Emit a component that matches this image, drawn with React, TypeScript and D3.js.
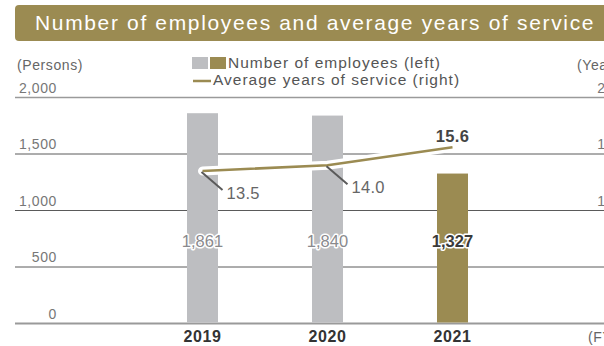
import React from "react";
import * as d3 from "d3";

const years = ["2019", "2020", "2021"];
const employees = [1861, 1840, 1327];
const serviceYears = [13.5, 14.0, 15.6];
const leftTicks = [0, 500, 1000, 1500, 2000];
const rightTicks = [0, 5, 10, 15, 20];
const leftTickLabels = ["0", "500", "1,000", "1,500", "2,000"];
const rightTickLabels = ["0", "5", "10", "15", "20"];

const W = 604;
const H = 346;
const GOLD = "#9b8b52";
const GRAY_BAR = "#bdbec1";
const FONT = "'Liberation Sans', Arial, Helvetica, sans-serif";

export default function App() {
  const x = d3.scalePoint<string>().domain(years).range([202.5, 452.5]);
  const yL = d3.scaleLinear().domain([0, 2000]).range([323.5, 97.5]);
  const yR = d3.scaleLinear().domain([0, 20]).range([323.5, 97.5]);
  const barW = 31;
  const last = years.length - 1;

  const pts: [number, number][] = years.map((yr, i) => [x(yr)!, yR(serviceYears[i])]);
  const lineGen = d3.line<[number, number]>().x((d) => d[0]).y((d) => d[1]).curve(d3.curveLinear);
  const path = lineGen(pts) || "";

  return (
    <svg
      width={W}
      height={H}
      viewBox={`0 0 ${W} ${H}`}
      style={{ position: "absolute", left: 0, top: 0, background: "#fff", fontFamily: FONT }}
    >
      {/* title banner */}
      <rect x={15} y={5} width={620} height={36} rx={4} fill={GOLD} />
      <text x={35} y={30} fill="#fff" fontSize={21} letterSpacing={1.65}>
        Number of employees and average years of service
      </text>

      {/* legend */}
      <rect x={192} y={57} width={16} height={12} fill={GRAY_BAR} />
      <rect x={210} y={57} width={16} height={12} fill={GOLD} />
      <text x={228} y={68} fill="#555" fontSize={15.5} letterSpacing={1.0}>
        Number of employees (left)
      </text>
      <line x1={193} x2={211} y1={81} y2={81} stroke={GOLD} strokeWidth={2.5} />
      <text x={213} y={85} fill="#555" fontSize={15.5} letterSpacing={1.0}>
        Average years of service (right)
      </text>

      {/* axis unit labels */}
      <text x={17} y={70} fill="#666" fontSize={14} letterSpacing={0.6}>(Persons)</text>
      <text x={577} y={70} fill="#666" fontSize={14} letterSpacing={0.6}>(Years)</text>
      <text x={588} y={342} fill="#666" fontSize={14} letterSpacing={0.6}>(FY)</text>

      {/* gridlines */}
      {leftTicks.map((t, i) => {
        const yy = yL(t);
        const top = i === leftTicks.length - 1;
        const bottom = i === 0;
        return (
          <line
            key={"g" + t}
            x1={15}
            x2={W}
            y1={yy}
            y2={yy}
            stroke={top || bottom ? "#9a9a9a" : "#5a5a5a"}
            strokeWidth={bottom ? 2 : top ? 1.5 : 1}
          />
        );
      })}

      {/* left tick labels */}
      {leftTicks.map((t, i) => (
        <text key={"l" + t} x={57} y={yL(t) - 5} textAnchor="end" fill="#777" fontSize={14} letterSpacing={0.6}>
          {leftTickLabels[i]}
        </text>
      ))}
      {/* right tick labels */}
      {rightTicks.map((t, i) => (
        <text key={"r" + t} x={614} y={yR(t) - 5} textAnchor="end" fill="#777" fontSize={14} letterSpacing={0.6}>
          {rightTickLabels[i]}
        </text>
      ))}

      {/* bars */}
      {years.map((yr, i) => (
        <rect
          key={"b" + yr}
          x={x(yr)! - barW / 2}
          y={yL(employees[i])}
          width={barW}
          height={yL(0) - yL(employees[i]) - 1}
          fill={i === last ? GOLD : GRAY_BAR}
        />
      ))}

      {/* line with halo */}
      <path d={path} fill="none" stroke="#fff" strokeWidth={9} strokeLinecap="round" strokeLinejoin="round" />
      <path d={path} fill="none" stroke={GOLD} strokeWidth={2.6} strokeLinecap="butt" strokeLinejoin="round" />

      {/* bar value labels */}
      {years.map((yr, i) => (
        <text
          key={"v" + yr}
          x={x(yr)!}
          y={247}
          textAnchor="middle"
          fontSize={16.5}
          fontWeight={i === last ? "bold" : "normal"}
          fill={i === last ? "#3a3a3a" : "#8a8a8d"}
          stroke="#fff"
          strokeWidth={3}
          strokeLinejoin="round"
          paintOrder="stroke"
        >
          {d3.format(",")(employees[i])}
        </text>
      ))}

      {/* line value labels */}
      {years.map((yr, i) => {
        const [px, py] = pts[i];
        if (i === last) {
          return (
            <text key={"s" + yr} x={px} y={py - 5} textAnchor="middle" fontSize={16.5} fontWeight="bold" fill="#444" letterSpacing={0.3}>
              {serviceYears[i].toFixed(1)}
            </text>
          );
        }
        return (
          <g key={"s" + yr}>
            <line x1={px - 1} y1={py + 1} x2={px + 20} y2={py + 19} stroke="#5a5a5a" strokeWidth={2} />
            <text x={px + 24} y={py + 28} fontSize={16.5} fill="#666" letterSpacing={0.3}>
              {serviceYears[i].toFixed(1)}
            </text>
          </g>
        );
      })}

      {/* x labels */}
      {years.map((yr) => (
        <text key={"x" + yr} x={x(yr)!} y={342} textAnchor="middle" fontSize={16} fontWeight="bold" fill="#333" letterSpacing={0.6}>
          {yr}
        </text>
      ))}
    </svg>
  );
}
